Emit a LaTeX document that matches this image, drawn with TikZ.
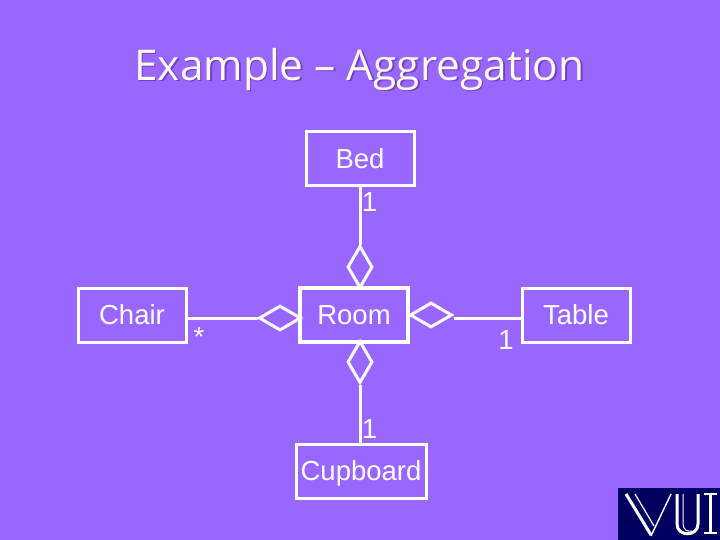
\documentclass[tikz,border=0pt]{standalone}
\usepackage{fontspec}
\setmainfont{Liberation Sans}
\newfontfamily\titlefont{Open Sans}
\usetikzlibrary{shapes.geometric}
\definecolor{bgpurple}{HTML}{9966FF}
\definecolor{cream}{HTML}{FFFBE8}
\definecolor{shadowp}{HTML}{7040C8}
\definecolor{navy}{HTML}{000060}
\tikzset{
  classbox/.style={draw=white,line width=3pt,minimum height=54pt,inner sep=0pt,text=white,text height=19.7pt,text depth=0pt,font=\fontsize{27.5}{30}\selectfont},
  agg/.style={draw=white,line width=3pt,diamond,inner sep=0pt,aspect=1},
  aggv/.style={agg,minimum width=25pt,minimum height=42pt},
  aggh/.style={agg,minimum width=42pt,minimum height=25pt},
  link/.style={draw=white,line width=3pt},
  mult/.style={text=white,inner sep=0pt,font=\fontsize{27.5}{30}\selectfont},
  logo/.style={draw=white,line join=miter}
}
\begin{document}
\begin{tikzpicture}[x=1pt,y=-1pt]
\useasboundingbox (0,0) rectangle (720,540);
\fill[bgpurple] (0,0) rectangle (720,540);
\node[text=shadowp,font=\titlefont\fontsize{42.4}{46}\selectfont] at (361,70.5) {Example – Aggregation};
\node[text=cream,font=\titlefont\fontsize{42.4}{46}\selectfont] (title) at (359.5,69) {Example – Aggregation};
\node[classbox,minimum width=108pt] (bed) at (360,159) {Bed};
\node[classbox,minimum width=108pt] (chair) at (132,315) {Chair};
\node[classbox,minimum width=108pt,line width=4pt] (room) at (354,315) {Room};
\node[classbox,minimum width=108pt] (table) at (576,315) {Table};
\node[classbox,minimum width=130pt] (cupboard) at (361,471) {Cupboard};
\node[aggv] (dtop) at (360,267) {};
\node[aggv] (dbot) at (360,362) {};
\node[aggh] (dleft) at (280,318) {};
\node[aggh] (dright) at (431,315) {};
\coordinate (chairend) at (chair.east |- dleft.west);
\coordinate (tableend) at (table.west |- 0,318);
\coordinate (drightend) at (dright.east |- 0,318);
\draw[link] (bed.south) -- (dtop.north);
\draw[link] (cupboard.north -| dbot.south) -- (dbot.south);
\draw[link] (chairend) -- (dleft.west);
\draw[link] (drightend) -- (tableend);
\node[mult] (m1) at (369.5,202) {1};
\node[mult] (m2) at (369.5,429) {1};
\node[mult] (m3) at (506,340) {1};
\node[mult] (m4) at (199,337) {*};
% logo
\fill[navy] (618,488) rectangle (720,540);
\draw[logo,line width=3pt] (626,494) -- (651,535);
\draw[logo,line width=1.2pt] (635,494) -- (654,526);
\draw[logo,line width=1.4pt] (671,494) -- (651,536);
\draw[logo,line width=3pt] (677,494) -- (677,524) .. controls (677,537) and (698,537) .. (698,524) -- (698,494);
\draw[logo,line width=1pt] (683,494) -- (683,524) .. controls (683,530) and (688,532) .. (692,531);
\draw[logo,line width=3pt] (710,494) -- (710,533);
\draw[logo,line width=1.2pt] (704,494) -- (717,494) (704,533) -- (717,533);
\end{tikzpicture}
\end{document}
